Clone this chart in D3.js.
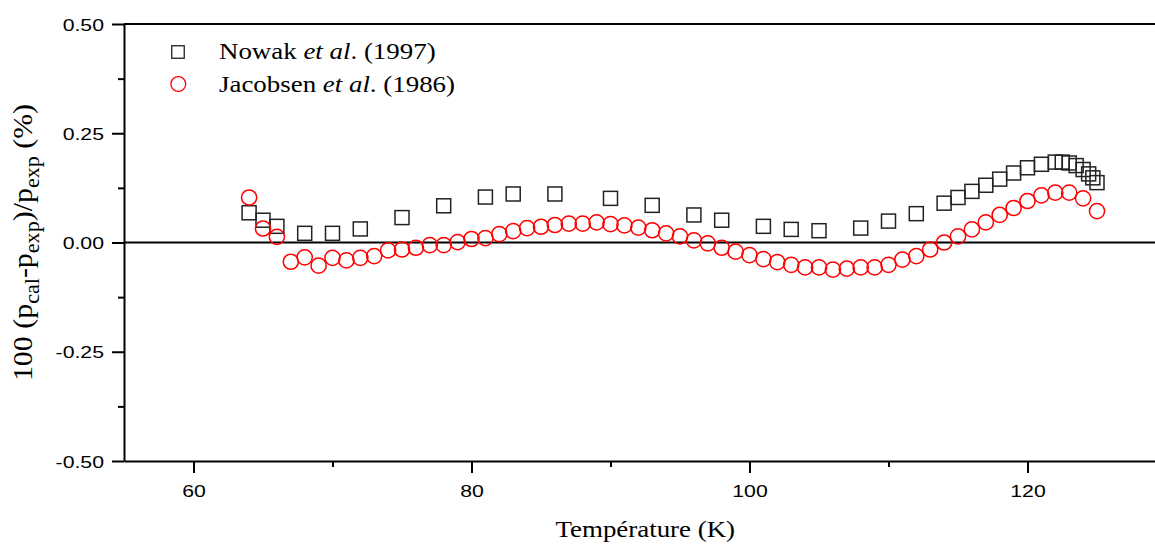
<!DOCTYPE html>
<html><head><meta charset="utf-8">
<script src="https://cdn.jsdelivr.net/npm/d3@7"></script>
<style>body{margin:0;background:#fff} svg{display:block}</style>
</head><body>
<svg id="c" width="1155" height="545"></svg>
<script>
const nowakT = [64,65,66,68,70,72,75,78,81,83,86,90,93,96,98,101,103,105,108,110,112,114,115,116,117,118,119,120,121,122,122.5,123,123.5,124,124.4,124.7,125];
const nowakV = [0.068,0.051,0.037,0.021,0.021,0.031,0.057,0.084,0.104,0.111,0.111,0.101,0.085,0.063,0.051,0.037,0.030,0.027,0.033,0.049,0.066,0.090,0.103,0.117,0.131,0.145,0.159,0.171,0.179,0.184,0.184,0.182,0.176,0.167,0.157,0.148,0.137];
const jacobT = [64,65,66,67,68,69,70,71,72,73,74,75,76,77,78,79,80,81,82,83,84,85,86,87,88,89,90,91,92,93,94,95,96,97,98,99,100,101,102,103,104,105,106,107,108,109,110,111,112,113,114,115,116,117,118,119,120,121,122,123,124,125];
const jacobV = [0.103,0.032,0.013,-0.044,-0.034,-0.053,-0.035,-0.041,-0.035,-0.031,-0.018,-0.016,-0.012,-0.006,-0.006,0.001,0.008,0.010,0.019,0.026,0.033,0.036,0.040,0.043,0.043,0.046,0.042,0.039,0.034,0.028,0.021,0.014,0.005,-0.002,-0.012,-0.021,-0.029,-0.038,-0.045,-0.051,-0.057,-0.057,-0.062,-0.060,-0.057,-0.057,-0.051,-0.039,-0.031,-0.016,0.000,0.014,0.030,0.046,0.063,0.079,0.095,0.108,0.114,0.114,0.101,0.072];
const xTicks = [60,80,100,120];
const xTickLabels = ["60","80","100","120"];
const xMinor = [70,90,110,130];
const yTicks = [0.5,0.25,0,-0.25,-0.5];
const yTickLabels = ["0.50","0.25","0.00","-0.25","-0.50"];
const yMinor = [0.375,0.125,-0.125,-0.375];
const seriesNames = ["Nowak", "Jacobsen"];
const seriesRefs = ["(1997)", "(1986)"];

const svg = d3.select('#c');
const x = d3.scaleLinear().domain([55,130]).range([124,1166.5]);
const y = d3.scaleLinear().domain([-0.5,0.5]).range([461,24]);
const SX = 1.25, SXS = 1.17;
const sans = '"Liberation Sans", Arial, sans-serif';
const serif = '"Liberation Serif", "Times New Roman", serif';

// top frame line
svg.append('line').attr('x1',x(55)).attr('x2',x(130)).attr('y1',y(0.5)).attr('y2',y(0.5))
  .attr('stroke','#000').attr('stroke-width',2);
// zero line
svg.append('line').attr('x1',x(55)).attr('x2',x(130)).attr('y1',y(0)).attr('y2',y(0))
  .attr('stroke','#000').attr('stroke-width',2);

// x axis
const gx = svg.append('g').attr('transform',`translate(0,${y(-0.5)})`)
  .call(d3.axisBottom(x).tickValues(xTicks).tickSize(12).tickSizeOuter(0).tickFormat((d,i)=>xTickLabels[i]));
gx.select('.domain').attr('stroke-width',2);
gx.selectAll('.tick line').attr('stroke-width',2);
gx.selectAll('.tick text').attr('y',36.5).attr('dy',null)
  .attr('font-family',sans).attr('font-size',17).attr('fill','#000')
  .attr('transform',`scale(${SX},1)`);
const gxm = svg.append('g').attr('transform',`translate(0,${y(-0.5)})`)
  .call(d3.axisBottom(x).tickValues(xMinor).tickSize(6).tickSizeOuter(0).tickFormat(''));
gxm.select('.domain').remove();
gxm.selectAll('.tick line').attr('stroke-width',2);

// y axis
const gy = svg.append('g').attr('transform',`translate(${x(55)},0)`)
  .call(d3.axisLeft(y).tickValues(yTicks).tickSize(12).tickSizeOuter(0).tickFormat((d,i)=>yTickLabels[i]));
gy.select('.domain').attr('stroke-width',2);
gy.selectAll('.tick line').attr('stroke-width',2);
gy.selectAll('.tick text').attr('x',-20/SX).attr('dy',null).attr('y',6)
  .attr('font-family',sans).attr('font-size',17).attr('fill','#000')
  .attr('transform',`scale(${SX},1)`);
const gym = svg.append('g').attr('transform',`translate(${x(55)},0)`)
  .call(d3.axisLeft(y).tickValues(yMinor).tickSize(6).tickSizeOuter(0).tickFormat(''));
gym.select('.domain').remove();
gym.selectAll('.tick line').attr('stroke-width',2);

// data
const nData = nowakT.map((t,i)=>({t, v:nowakV[i]}));
const jData = jacobT.map((t,i)=>({t, v:jacobV[i]}));
const sq = 14;
svg.append('g').selectAll('rect').data(nData).join('rect')
  .attr('x',d=>x(d.t)-sq/2).attr('y',d=>y(d.v)-sq/2).attr('width',sq).attr('height',sq)
  .attr('fill','none').attr('stroke','#222').attr('stroke-width',1.5);
svg.append('g').selectAll('circle').data(jData).join('circle')
  .attr('cx',d=>x(d.t)).attr('cy',d=>y(d.v)).attr('r',7.6)
  .attr('fill','none').attr('stroke','#ff0000').attr('stroke-width',1.5);

// legend
const lg = svg.append('g');
lg.append('rect').attr('x',178-6.25).attr('y',52-6.25).attr('width',12.5).attr('height',12.5)
  .attr('fill','none').attr('stroke','#222').attr('stroke-width',1.3);
lg.append('circle').attr('cx',178.3).attr('cy',84).attr('r',7.4)
  .attr('fill','none').attr('stroke','#ff0000').attr('stroke-width',1.3);
[[59,0],[91.5,1]].forEach(([by,i])=>{
  const t = lg.append('text').attr('transform',`translate(219,${by}) scale(${SXS},1)`)
    .attr('font-family',serif).attr('font-size',23).attr('fill','#000');
  t.append('tspan').text(seriesNames[i]+' ');
  t.append('tspan').attr('font-style','italic').text('et al');
  t.append('tspan').text('. '+seriesRefs[i]);
});

// x title
svg.append('text').attr('transform',`translate(${(x(55)+x(130))/2},537) scale(${SXS},1)`)
  .attr('text-anchor','middle').attr('font-family',serif).attr('font-size',23).attr('fill','#000')
  .text('Température (K)');

// y title
const yt = svg.append('text').attr('transform',`translate(32,242.5) scale(${SXS},1.3) rotate(-90)`)
  .attr('text-anchor','middle').attr('font-family',serif).attr('font-size',23).attr('fill','#000');
const parts = [['100 (p',0],['cal',1],['-p',0],['exp',1],[')/p',0],['exp',1],[' (%)',0]];
let cur = 0;
parts.forEach(([s,sub])=>{
  const target = sub ? 6 : 0;
  yt.append('tspan').attr('dy',target-cur).attr('font-size',sub?17:23).text(s);
  cur = target;
});
</script>
</body></html>
